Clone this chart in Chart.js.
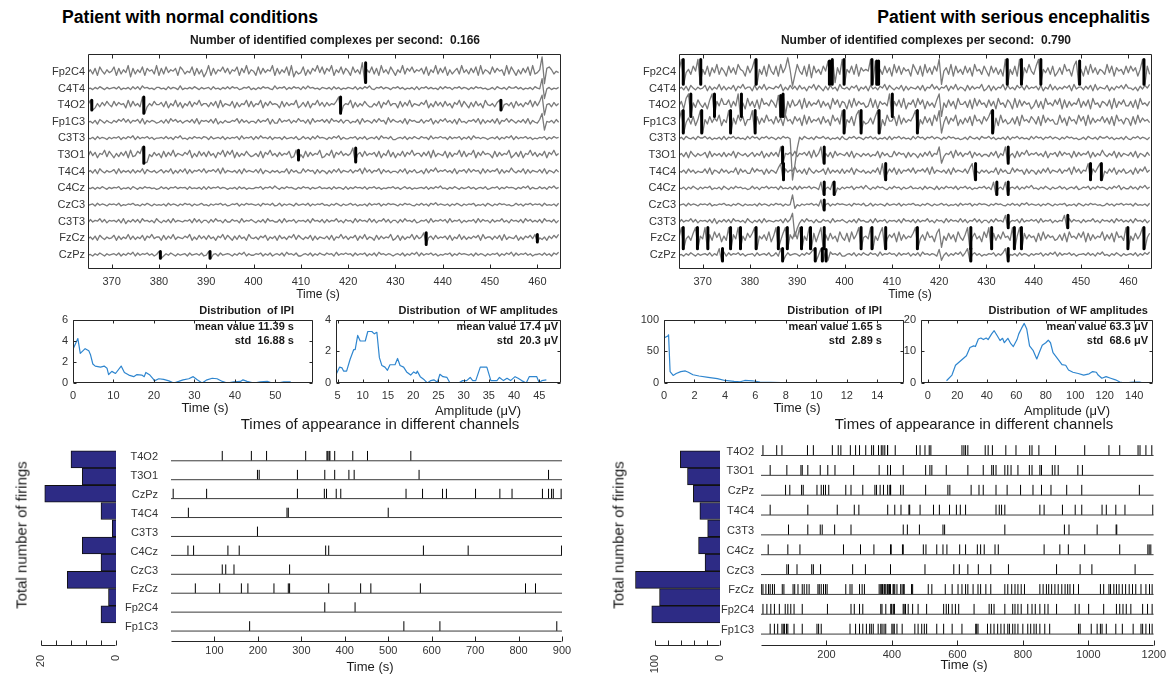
<!DOCTYPE html>
<html lang="en">
<head>
<meta charset="UTF-8">
<title>Complex detection - normal vs encephalitis</title>
<script src="https://cdn.jsdelivr.net/npm/chart.js"></script>
<style>
  body { margin: 0; background: #fff; }
  #page { position: relative; width: 1169px; height: 677px; overflow: hidden; font-family: 'Liberation Sans', Arial, sans-serif; }
  canvas { position: absolute; }
  .t { position: absolute; white-space: pre; line-height: 1; color: #1a1a1a; z-index: 2; }
  .c { transform: translate(-50%, -50%); }
  .r { transform: translate(-100%, -50%); }
  .l { transform: translateY(-50%); }
  .b { font-weight: bold; }
  .rot { transform: translate(-50%, -50%) rotate(-90deg); }
</style>
</head>
<body>
<div id="page">
  <div class="t b l" style="left:62px;top:18px;font-size:17.6px;color:#000">Patient with normal conditions</div>
  <div class="t b r" style="left:1150px;top:18px;font-size:17.6px;color:#000">Patient with serious encephalitis</div>
  <div class="t b c" style="left:335px;top:40px;font-size:12px">Number of identified complexes per second:  0.166</div>
  <div class="t b c" style="left:926px;top:40px;font-size:12px">Number of identified complexes per second:  0.790</div>
  <div class="t c" style="left:318px;top:294px;font-size:12px">Time (s)</div>
  <div class="t c" style="left:910px;top:294px;font-size:12px">Time (s)</div>

  <div class="t b r" style="left:294px;top:310px;font-size:11px">Distribution  of IPI</div>
  <div class="t b r" style="left:294px;top:326px;font-size:11px">mean value 11.39 s</div>
  <div class="t b r" style="left:294px;top:340px;font-size:11px">std  16.88 s</div>
  <div class="t b r" style="left:558px;top:310px;font-size:11px">Distribution  of WF amplitudes</div>
  <div class="t b r" style="left:558px;top:326px;font-size:11px">mean value 17.4 μV</div>
  <div class="t b r" style="left:558px;top:340px;font-size:11px">std  20.3 μV</div>
  <div class="t b r" style="left:882px;top:310px;font-size:11px">Distribution  of IPI</div>
  <div class="t b r" style="left:882px;top:326px;font-size:11px">mean value 1.65 s</div>
  <div class="t b r" style="left:882px;top:340px;font-size:11px">std  2.89 s</div>
  <div class="t b r" style="left:1148px;top:310px;font-size:11px">Distribution  of WF amplitudes</div>
  <div class="t b r" style="left:1148px;top:326px;font-size:11px">mean value 63.3 μV</div>
  <div class="t b r" style="left:1148px;top:340px;font-size:11px">std  68.6 μV</div>

  <div class="t c" style="left:205px;top:407px;font-size:13px">Time (s)</div>
  <div class="t c" style="left:478px;top:410px;font-size:13px">Amplitude (μV)</div>
  <div class="t c" style="left:797px;top:407px;font-size:13px">Time (s)</div>
  <div class="t c" style="left:1067px;top:410px;font-size:13px">Amplitude (μV)</div>

  <div class="t c" style="left:380px;top:423px;font-size:15px">Times of appearance in different channels</div>
  <div class="t c" style="left:974px;top:423px;font-size:15px">Times of appearance in different channels</div>
  <div class="t rot" style="left:21px;top:535px;font-size:15px">Total number of firings</div>
  <div class="t rot" style="left:618px;top:535px;font-size:15px">Total number of firings</div>
  <div class="t c" style="left:370px;top:666px;font-size:13px">Time (s)</div>
  <div class="t c" style="left:964px;top:664px;font-size:13px">Time (s)</div>
</div>

<script>
// ---------- EEG traces: 100 s window, one sample every 0.5 s ----------
const channels = ['Fp2C4', 'C4T4', 'T4O2', 'Fp1C3', 'C3T3', 'T3O1', 'T4C4', 'C4Cz', 'CzC3', 'C3T3', 'FzCz', 'CzPz'];
const eegT0 = 365;
const eegDt = 0.5;
const eegTicks = [370, 380, 390, 400, 410, 420, 430, 440, 450, 460];

// amplitude of one symbol step, in channel spacings
const gainNormal = [0.085, 0.045, 0.065, 0.055, 0.045, 0.065, 0.05, 0.04, 0.04, 0.05, 0.05, 0.045];
const gainEnceph = [0.1, 0.055, 0.09, 0.09, 0.05, 0.065, 0.065, 0.05, 0.04, 0.05, 0.085, 0.05];

// symbols: A B C (low) 0..9 X Y Z (high)
const traceNormal = [
  '4637285364 5827364917 3648275639 2738465728 6354827361 4927365847 3658274936 5283746592 7364829153 4826375948 3759264837 528463YA64 8372946385 2649375846 5738264937 4826357394 6374829365 3847562938 5263748293 46ZA786354',
  '4536475364 5647354637 4738564536 6453746538 3546475364 5637453647 4756346573 5364756438 4657364756 3748564536 5463746354 6547364758 4365746536 5746354637 3657464537 4756365746 5364756453 4637546375 5746354637 54ZA463546',
  '5902637485 3847562938 463ZA36485 5738264937 2648375946 6374829365 4827365938 3659274856 5283746592 4738265947 374658ZA46 5927364853 3648275946 6283749365 4759263847 3846275938 5273846295 4637905647 2846375938 48ZA563746',
  '4536275364 3647584736 5738264653 4637385746 3564738265 6473825364 4658374635 5374658273 3846573648 5637284657 4738564736 6354728465 3748562947 5463827564 4736582637 5846372845 3657482736 4738265847 5364738264 37ZA546374',
  '5463746536 4657364758 3746574635 5647463758 4536475647 6374564736 4657384657 3748564736 5637456473 4746374856 5364758364 4657364735 6473856473 3564736475 4756384657 5637465736 4738564653 5647364758 3746574635 4657364756',
  '3847265938 5263748293 486ZAB5374 6283749365 4759263847 3846275938 5927364853 4638275946 3746582390 5283746592 3649275846 46YB573846 5738264937 2648375946 6374829365 4827365938 3659274856 5283746592 4738265947 3648275946',
  '4637285364 5728364637 3648275463 5736482637 4827365748 3657482936 5463728465 4738265364 6354827463 3847562736 5263748365 4736582947 3658274635 5374826473 4628375946 5746382657 3847562837 4658273649 5364827365 4738265374',
  '5463647536 4657354637 5364756453 4746365746 5637454637 3746574653 5463746354 4657365748 5364756436 4756364574 5463746537 3647564736 5746354657 4635746354 5647364758 4536475364 5746356473 4657364756 5364758364 4746375846',
  '4563746536 5647354657 4536475364 5463746536 4756364574 5364657463 4657364756 5463756473 4736465374 5647364657 4536475364 5746354637 4657364756 5364756436 4746375846 5463647536 4657354637 5364756453 4746365746 5637454637',
  '3746584736 5647382647 4738564638 5364738465 4657384736 6374856374 4756384657 5364738564 4738465736 5647385647 3746584637 5638475648 4736584736 6374856473 4657384657 5738465736 4657384756 3746584637 5647385746 4738564736',
  '4637285364 5827364937 3648275946 6283749365 4759263847 3846275938 5273846295 4637582647 2846375938 5364827365 4738265947 3658274936 5283746592 4827365938 46YA573846 5738264937 3647582946 6374829365 4826375849 0536274859',
  '4536475364 5647364758 3746574635 9036475364 5637456473 4905637456 5364758364 4657364735 6473856473 3564736475 4756384657 5637465736 4738564653 5647364758 3746574635 4657364756 5463746536 4657364758 3746574635 5647463758'
];
const traceEnceph = [
  '5ZA46385ZA 6382749375 2847396528 47ZA638295 3829475638 4738291846 385YAZB73Z A648392756 5ZAYA63847 2948375629 6382947385 ZA57392846 3847295638 52847362ZA 6382ZA7495 38ZA647382 47395628YA 6283947365 3948275638 485726ZA83',
  '4637285364 5827364937 3648275946 6283749365 4759263847 3846275938 5273846295 4637582647 2846375938 5364827365 4738265947 3658274936 5283746592 4827365938 4638573846 5738264937 3647582946 6374829365 4826375849 5536274859',
  '4729ZA6385 3628ZA7495 58374ZA629 4738295648 63YAZB7384 5829374658 3746295837 6283947563 493827564Z A748392658 3958274638 ZA63847295 5738294856 3847295638 6293847562 4837295648 5928374659 3748295637 6482937584 4738295647',
  '5ZA473826Z A638475926 4ZA7395826 6ZA8374956 3847295638 5729384657 384629573Z A64829ZA53 4738ZA6295 5829374658 ZA63847295 ZA48375926 3748295638 58ZA729463 4738295648 6382947563 3947285639 5829374658 4738295637 6283947564',
  '4637546375 5746354637 3657464537 4756365746 5364756453 4637546375 5746354637 4365746536 5746354637 3657464537 4756365746 5364756453 4637546375 5746354637 3657464537 4756365746 5364756453 4637546375 5746354637 4365746536',
  '4637285364 5728364637 3648275463 5736482637 473ZA65748 3657482936 ZA63728465 4738265364 6354827463 3847562736 5263748365 ZA36582947 3658274635 53748264ZA 4628375946 5746382657 3847562837 4658273649 5364827365 4738265374',
  '5463746354 4738265374 6354827463 3847562736 538ZA74659 4637285364 5728364637 3648275463 536482ZA37 4827365748 3657482936 5463728465 4738ZA5364 6354827463 3847562736 5263748365 4736582947 365ZA748ZA 5374826473 4628375946',
  '5463647536 4657354637 5364756453 4746365746 5637454637 3746574653 ZA463ZA536 4657365748 5364756436 4756364574 5463746537 3647564736 5746354657 463ZA463ZA 5647364758 4536475364 5746356473 4657364756 5364758364 4746375846',
  '4563746536 5647354657 4536475364 5463746536 4756364574 5364657463 ZA57364756 5463756473 4736465374 5647364657 4536475364 5746354637 4657364756 5364756436 4746375846 5463647536 4657354637 5364756453 4746365746 5637454637',
  '3746584736 5647382647 4738564638 5364738465 4657384736 6374856374 4756384657 5364738564 4738465736 5647385647 3746584637 5638475648 4736584736 63748564ZA 4657384657 5738465736 465ZA84756 3746584637 5647385746 4738564736',
  '5ZA4638ZA6 4ZA7395826 3ZA74ZA638 58ZA647392 6ZA38ZA749 4ZA63ZA827 ZA73846295 382947ZA56 4ZA638ZA47 5829374658 ZA47395628 YB63847295 37ZA584629 5ZA8374956 3ZA6ZA8475 6283947563 4738295648 5928374659 374829563Z A63847ZA58',
  '4536475364 5647364ZA8 3746574635 5637456473 473ZA37456 5364758ZA4 ZAYB856473 3564736475 4756384657 5637465736 4738564653 YB47364758 37ZA574635 46573647ZA 5463746536 4657364758 3746574635 5647463758 4536475364 5647364758'
];
// large transients: [channel, sample, offset in channel spacings]
const artifactNormal = [[0, 192, 0.9], [0, 193, -0.7], [1, 192, 0.6], [1, 193, -0.6], [2, 192, 0.6], [2, 193, -0.6], [3, 192, 0.5], [3, 193, -0.5]];
const artifactEnceph = [[0, 46, 0.85], [0, 47, 0.1], [0, 48, -0.85], [0, 49, -0.2], [0, 50, 0.45], [0, 51, 0.05],
  [4, 48, -2.5], [4, 49, -1.6], [4, 50, -0.6], [8, 48, 0.6], [8, 49, -0.2], [9, 48, 0.5], [9, 49, -0.9], [9, 50, -0.4]];

// ---------- firings per channel ----------
const firingChannels = ['T4O2', 'T3O1', 'CzPz', 'T4C4', 'C3T3', 'C4Cz', 'CzC3', 'FzCz', 'Fp2C4', 'Fp1C3'];
const firingCountNormal = [12, 9, 19, 4, 1, 9, 4, 13, 2, 4];
const firingCountEnceph = [61, 50, 41, 31, 19, 33, 23, 130, 93, 105];
// which firing row belongs to each EEG channel (null = none)
const eegToFiring = [8, null, 0, 9, null, 1, 3, 5, 6, 4, 7, 2];

const firingTimesNormal = [
  [118, 185, 220, 310, 359, 361, 364, 365.8, 376.8, 418.4, 452.3, 552],
  [199, 203, 291, 354, 376.8, 409.5, 421.6, 571, 869],
  [5, 82, 291, 353, 358, 380.3, 390.8, 541, 579, 625, 634, 701, 757, 785, 855, 869, 876, 880, 898],
  [40, 267, 270, 500],
  [199],
  [39, 52, 131, 157, 356, 363, 581, 684, 899],
  [118, 126, 145, 273],
  [56, 112, 162, 177, 237, 270, 273, 363, 436.5, 460, 574, 816, 839],
  [354, 423.7],
  [181, 536, 619, 888]
];
const firingTimesEnceph = [
  [6, 48, 64, 142, 160, 218, 236, 244, 273, 289, 301, 320, 338, 344, 359, 367.5, 372.5, 378.2, 386.5, 387, 410.1, 475, 486, 501, 514, 519, 614, 620, 625, 632, 685, 694, 707, 748, 779, 821, 828, 849, 900, 989, 1063, 1096, 1152, 1158, 1176, 1194],
  [28, 79, 122, 126, 143, 181, 204, 226, 283, 361, 386.9, 395.7, 434.6, 503, 516, 522, 566, 632, 679, 705, 710, 718, 745, 754, 764, 785, 820, 828, 852, 857, 890, 898, 908, 968, 982],
  [75, 88, 124, 129, 171, 184, 191, 197, 207, 259, 275, 311, 348, 353, 364, 374.2, 386.9, 393.8, 395.3, 396.1, 426.7, 434.6, 503, 571, 577, 642, 666, 679, 718, 752, 793, 831, 857, 886, 934, 980, 1156],
  [28, 143, 233, 285, 299, 387.1, 408.7, 427.7, 452, 454.3, 486, 527, 545, 576, 597, 609, 625, 718, 728, 735, 745, 852, 865, 921, 960, 980, 1042, 1055, 1084, 1112, 1197],
  [84, 143, 181, 187, 225, 275, 434.6, 447.2, 484, 556, 561, 745, 927, 941, 1027, 1085, 1087],
  [22, 82, 119, 252, 304, 345, 395.7, 397.8, 432.2, 434.6, 496, 504, 537, 556, 568, 607, 625, 661, 671, 682, 715, 725, 865, 913, 939, 989, 1096, 1182, 1186, 1191],
  [79, 84, 110, 155, 160, 182, 280, 319, 395.7, 501, 589, 606, 632, 664, 702, 756, 903, 975, 1011, 1143],
  [1, 6, 15, 23, 28, 35, 41, 65, 70, 98, 103, 113, 126, 132, 140, 147, 174, 178, 184, 191, 197, 202, 259, 272, 278, 301, 309, 316, 361,
   365.9, 368.9, 371.1, 375.9, 378, 381.3, 386, 387.9, 390.9, 392.8, 395.7, 403.5, 405.8, 408.7, 415.4, 426.7, 431.1, 435.9, 437.4, 459.9, 463.3,
   511, 522, 563, 584, 602, 614, 625, 632, 648, 663, 671, 687, 702, 745, 754, 766, 776, 785, 795, 805, 852, 862, 872, 879, 888, 898, 908, 919, 929, 937, 944, 955, 970,
   1037, 1047, 1063, 1068, 1078, 1086, 1094, 1104, 1114, 1125, 1135, 1145, 1161, 1176, 1187, 1195],
  [6, 18, 30, 41, 56, 74, 82, 91, 101, 126, 203, 275, 285, 301, 311, 365.9, 369.6, 381.3, 396.8, 397.4, 399.9, 405.8, 406.8, 407.2, 434.4, 437.4, 441.5, 449.7, 463.3,
   480, 506, 558, 566, 573, 584, 594, 604, 651, 697, 704, 712, 745, 769, 776, 785, 795, 815, 828, 838, 852, 867, 877, 903, 960, 972, 1001, 1047, 1086, 1096, 1106, 1116, 1130, 1166, 1181, 1195],
  [28, 41, 51, 64, 68, 72, 78, 82, 101, 126, 171, 176, 184, 272, 289, 301, 311, 322, 332, 337, 343, 358, 365.9, 369.8, 375.9, 381.1, 399.9, 403.5, 407.3, 415.4, 431.3,
   470, 480, 491, 499, 506, 537, 558, 584, 614, 656, 659, 663, 692, 702, 712, 723, 733, 743, 754, 759, 769, 776, 785, 800, 815, 824, 834, 841, 852, 867, 882,
   970, 975, 1009, 1027, 1037, 1042, 1055, 1084, 1104, 1137, 1161, 1166, 1176, 1187, 1195]
];
const rasterTicksNormal = [100, 200, 300, 400, 500, 600, 700, 800, 900];
const rasterTicksEnceph = [200, 400, 600, 800, 1000, 1200];
const barTicksNormal = [0, 4, 8, 12, 16, 20];
const barLabelsNormal = [20, 0];
const barTicksEnceph = [0, 20, 40, 60, 80, 100];
const barLabelsEnceph = [100, 0];

// ---------- distributions ----------
const ipiTimeNormal = [0, 1.2, 1.8, 3, 3.9, 4.3, 4.9, 5.5, 6.8, 7.7, 8.4, 8.8, 9.6, 10.5, 11.9, 12.7, 13.8, 15, 15.8, 17, 17.6, 18, 19, 19.8, 20.1, 21.2, 22.4, 23.7, 24.9, 26.1, 27.2, 28.6, 29.7, 30.7, 31.9, 33.1, 34.4, 35.6, 36.9, 38.1, 39.7, 41.4, 42, 43, 44.7, 46.3, 48, 49.2, 50.5, 52.1, 53.8];
const ipiCountNormal = [3.2, 4.2, 2.8, 3.25, 3.05, 2.7, 1.8, 1.6, 1.5, 1.6, 1.4, 0.8, 1.1, 0.9, 1.6, 1.0, 0.75, 0.6, 0.8, 0.75, 0.6, 1.0, 0.75, 0.4, 0.2, 0.4, 0.35, 0.2, 0, 0.15, 0.3, 0.4, 0.6, 0.3, 0, 0.3, 0.45, 0.4, 0.15, 0, 0.1, 0.15, 0.3, 0.15, 0, 0.1, 0.15, 0, 0, 0.1, 0.1];
const wfAmpNormal = [4.74, 5.4, 5.9, 6.2, 6.8, 7.5, 8.2, 8.5, 9, 9.5, 10.5, 11, 11.8, 12.3, 12.8, 13.3, 13.8, 14.4, 14.9, 15.4, 16.4, 16.9, 17.4, 18.1, 18.7, 19.5, 20.1, 20.6, 20.8, 21.4, 22.2, 22.8, 23.5, 24.1, 24.8, 25.3, 25.9, 26.7, 27.3, 29, 29.8, 30.6, 31.3, 31.8, 32.4, 33.3, 34.6, 35.4, 36.6, 37.1, 37.9, 38.6, 39.3, 40.2, 40.8, 41.5, 42.4, 43, 44.5, 45, 45.5, 46.4];
const wfCountNormal = [0.55, 1.0, 0.95, 0.75, 0.75, 1.5, 2.1, 2.1, 3.0, 2.65, 2.65, 3.25, 3.25, 3.1, 3.2, 1.6, 1.1, 1.0, 0.8, 1.15, 1.15, 1.55, 1.1, 1.0, 0.7, 0.5, 0.7, 0.6, 0.75, 0.4, 0.2, 0, 0.15, 0.2, 0.05, 0.55, 0.4, 0.35, 0, 0, 0.15, 0.15, 0.35, 0.15, 0.15, 1.0, 1.0, 0.15, 0.15, 0.35, 0.15, 0.3, 0.15, 0.4, 0.3, 0.15, 0, 0.4, 0.4, 0, 0.15, 0.2];
const ipiTimeEnceph = [0, 0.25, 0.3, 0.4, 0.6, 0.8, 1.1, 1.4, 1.6, 1.9, 2.3, 2.9, 3.5, 4.0, 4.6, 5.0, 5.3, 5.8, 6.3, 7.0, 7.7, 8.7, 10.1, 11.3, 12.5, 14, 15.3];
const ipiCountEnceph = [71, 74, 76, 18, 12, 15, 18, 19, 17, 13, 11, 9, 7, 4, 2.5, 2, 4, 3.5, 1.5, 1, 0.5, 0.2, 0.2, 0.1, 0.1, 0.1, 0.1];
const wfAmpEnceph = [12.7, 16.4, 18.8, 22.5, 26.2, 28.6, 31.1, 32.3, 34.3, 36, 37.7, 39.6, 40.9, 43.3, 45, 47, 49, 50.7, 51.9, 54.3, 56.3, 58, 60.5, 61.7, 63.6, 65.4, 67.1, 69, 71.5, 73.9, 75.6, 77.6, 80, 81.7, 83.2, 84.9, 88.1, 91, 93.5, 95.4, 98.4, 102, 105.7, 109.4, 111.8, 114.3, 115.5, 118, 120.9, 124, 127.3, 130.2, 133.9, 137.5, 140, 143.7, 146.1];
const wfCountEnceph = [0.7, 2.5, 5.6, 7.1, 8.6, 11.2, 11.7, 11.5, 13.9, 14.2, 13.7, 14.2, 13.7, 15.5, 16.5, 15, 13.4, 14.1, 12.7, 14.1, 12.4, 11.5, 13.7, 15.5, 17.3, 18.8, 17, 11.7, 10.2, 7.6, 9.6, 11.9, 12.7, 13.5, 12.7, 9.6, 7.6, 5.8, 5.6, 4.1, 3.4, 3, 2.5, 2.9, 3.6, 3.4, 2.5, 1.5, 2, 1.5, 1, 0.3, 0, 0.2, 0.3, 0.3, 0];
const ipiTicksNormal = [0, 10, 20, 30, 40, 50];
const ipiYTicksNormal = [0, 2, 4, 6];
const wfTicksNormal = [5, 10, 15, 20, 25, 30, 35, 40, 45];
const wfYTicksNormal = [0, 2, 4];
const ipiTicksEnceph = [0, 2, 4, 6, 8, 10, 12, 14];
const ipiYTicksEnceph = [0, 50, 100];
const wfTicksEnceph = [0, 20, 40, 60, 80, 100, 120, 140];
const wfYTicksEnceph = [0, 10, 20];

// ---------- drawing ----------
const FONT = "'Liberation Sans', Arial, sans-serif";
Chart.defaults.font.family = FONT;
Chart.defaults.color = '#333';
const page = document.getElementById('page');
const SYM = 'ABC0123456789XYZ';

// plot frame with inward ticks, MATLAB style
const framePlugin = {
  id: 'frame',
  afterDatasetsDraw(chart, args, o) {
    const a = chart.chartArea, ctx = chart.ctx, len = o.len || 4;
    const L = Math.round(a.left) + 0.5, R = Math.round(a.right) - 0.5;
    const T = Math.round(a.top) + 0.5, B = Math.round(a.bottom) - 0.5;
    ctx.save();
    ctx.strokeStyle = '#262626';
    ctx.lineWidth = 1;
    ctx.beginPath();
    if (o.box) ctx.rect(L, T, R - L, B - T);
    else { ctx.moveTo(L, B); ctx.lineTo(R, B); }
    if (o.xTicks) chart.scales.x.ticks.forEach(t => {
      const p = Math.round(chart.scales.x.getPixelForValue(t.value)) + 0.5;
      ctx.moveTo(p, B); ctx.lineTo(p, B - len);
      if (o.box) { ctx.moveTo(p, T); ctx.lineTo(p, T + len); }
    });
    if (o.yTicks) chart.scales.y.ticks.forEach(t => {
      const p = Math.round(chart.scales.y.getPixelForValue(t.value)) + 0.5;
      ctx.moveTo(L, p); ctx.lineTo(L + len, p);
      ctx.moveTo(R, p); ctx.lineTo(R - len, p);
    });
    ctx.stroke();
    ctx.restore();
  }
};

function useTicks(list) {
  return s => { s.ticks = list.map(v => ({ value: v })); };
}

function makeChart(plot, pad, type, datasets, scales, frame, extra) {
  const cv = document.createElement('canvas');
  cv.width = plot.r - plot.l + pad.l + pad.r;
  cv.height = plot.b - plot.t + pad.t + pad.b;
  cv.style.left = (plot.l - pad.l) + 'px';
  cv.style.top = (plot.t - pad.t) + 'px';
  page.insertBefore(cv, page.firstChild);
  const yShown = scales.y.display !== false;
  scales.x.afterFit = s => { s.height = pad.b; };
  if (yShown) scales.y.afterFit = s => { s.width = pad.l; };
  for (const k in scales) {
    scales[k].grid = { display: false, drawTicks: false };
    scales[k].border = { display: false };
    if (scales[k].ticks) scales[k].ticks.autoSkip = false;
  }
  return new Chart(cv, {
    type: type,
    data: { datasets: datasets },
    options: Object.assign({
      responsive: false,
      animation: false,
      devicePixelRatio: 1,
      layout: { padding: { top: pad.t, right: pad.r, bottom: 0, left: yShown ? 0 : pad.l } },
      plugins: { legend: { display: false }, tooltip: { enabled: false }, frame: frame },
      scales: scales
    }, extra || {}),
    plugins: [framePlugin]
  });
}

function tickFont(size) { return { size: size, family: FONT }; }

function eegPanel(plot, traces, gains, artifacts, firingTimes) {
  const n = channels.length;
  const pts = traces.map((s, i) => s.replace(/\s+/g, '').split('').map((ch, k) => ({
    x: eegT0 + k * eegDt,
    y: n - i + gains[i] * (SYM.indexOf(ch) - 7.5)
  })));
  artifacts.forEach(([i, k, v]) => { pts[i][k].y = n - i + v; });
  const datasets = pts.map(p => ({
    data: p, showLine: true, pointRadius: 0, borderWidth: 1.3, borderColor: '#7a7a7a', borderJoinStyle: 'round', order: 2
  }));
  // detected complexes: black bar at the firing time spanning the trace swing there
  pts.forEach((p, i) => {
    const f = eegToFiring[i];
    if (f === null) return;
    const mark = [];
    firingTimes[f].filter(t => t >= eegT0 && t < eegT0 + 100).forEach(t => {
      const k = Math.max(1, Math.round((t - eegT0) / eegDt));
      mark.push({ x: t, y: p[k - 1].y }, { x: t, y: p[k].y }, { x: t, y: null });
    });
    datasets.push({ data: mark, showLine: true, pointRadius: 0, borderWidth: 3, borderColor: '#000', borderCapStyle: 'round', order: 1 });
  });
  makeChart(plot, { l: 50, t: 5, r: 12, b: 20 }, 'scatter', datasets, {
    x: { type: 'linear', min: eegT0, max: eegT0 + 100, afterBuildTicks: useTicks(eegTicks),
         ticks: { font: tickFont(11), padding: 6, maxRotation: 0 } },
    y: { type: 'linear', min: 0.15, max: 13.1, afterBuildTicks: useTicks(channels.map((c, i) => i + 1)),
         ticks: { font: tickFont(11), padding: 3, callback: v => channels[n - v] } }
  }, { box: true, xTicks: true, len: 4 });
}

function distPanel(plot, padL, xs, ys, xMin, xMax, yMax, xTicks, yTicks) {
  const data = xs.map((x, i) => ({ x: x, y: ys[i] }));
  makeChart(plot, { l: padL, t: 10, r: 10, b: 18 }, 'scatter', [{
    data: data, showLine: true, pointRadius: 0, borderWidth: 1.2, borderColor: '#2f86cf', borderJoinStyle: 'round'
  }], {
    x: { type: 'linear', min: xMin, max: xMax, afterBuildTicks: useTicks(xTicks),
         ticks: { font: tickFont(11), padding: 6, maxRotation: 0 } },
    y: { type: 'linear', min: 0, max: yMax, afterBuildTicks: useTicks(yTicks),
         ticks: { font: tickFont(11), padding: 5 } }
  }, { box: true, xTicks: true, yTicks: true, len: 3 });
}

function barPanel(plot, counts, max, tickList, labelList) {
  const data = counts.map((c, i) => ({ x: c, y: firingChannels.length - i }));
  makeChart(plot, { l: 30, t: 5, r: 5, b: 30 }, 'bar', [{
    data: data, backgroundColor: '#2d2b85', borderColor: '#111', borderWidth: 1, barThickness: 17, clip: false
  }], {
    x: { type: 'linear', reverse: true, min: 0, max: max, afterBuildTicks: useTicks(tickList),
         ticks: { font: tickFont(11), padding: 9, minRotation: 90, maxRotation: 90,
                  callback: v => labelList.includes(v) ? String(v) : '' } },
    y: { type: 'linear', min: 0.2, max: 10.55, display: false }
  }, { box: false, xTicks: true, len: 5 }, { indexAxis: 'y' });
}

function rasterPanel(plot, padL, labelPad, times, xMax, tickList) {
  const n = firingChannels.length;
  const base = [], marks = [];
  times.forEach((row, i) => {
    const r = n - i;
    base.push({ x: 0, y: r - 0.2 }, { x: xMax, y: r - 0.2 }, { x: xMax, y: null });
    row.forEach(t => { marks.push({ x: t, y: r - 0.2 }, { x: t, y: r + 0.32 }, { x: t, y: null }); });
  });
  makeChart(plot, { l: padL, t: 5, r: 14, b: 16 }, 'scatter', [
    { data: base, showLine: true, pointRadius: 0, borderWidth: 1, borderColor: '#3a3a3a' },
    { data: marks, showLine: true, pointRadius: 0, borderWidth: 1, borderColor: '#000' }
  ], {
    x: { type: 'linear', min: 0, max: xMax, afterBuildTicks: useTicks(tickList),
         ticks: { font: tickFont(11), padding: 2, maxRotation: 0, callback: v => String(v) } },
    y: { type: 'linear', min: 0.2, max: 10.55, afterBuildTicks: useTicks(firingChannels.map((c, i) => i + 1)),
         ticks: { font: tickFont(11), padding: labelPad, callback: v => firingChannels[n - v] } }
  }, { box: false, xTicks: true, len: 5 });
}

// left column: normal conditions
eegPanel({ l: 88, t: 49, r: 561, b: 269 }, traceNormal, gainNormal, artifactNormal, firingTimesNormal);
distPanel({ l: 73, t: 318, r: 313, b: 383 }, 25, ipiTimeNormal, ipiCountNormal, 0, 59.3, 6, ipiTicksNormal, ipiYTicksNormal);
distPanel({ l: 336, t: 318, r: 561, b: 383 }, 20, wfAmpNormal, wfCountNormal, 4.7, 49.3, 4, wfTicksNormal, wfYTicksNormal);
barPanel({ l: 41, t: 432, r: 116, b: 646 }, firingCountNormal, 20, barTicksNormal, barLabelsNormal);
rasterPanel({ l: 171, t: 432, r: 562, b: 646 }, 50, 13, firingTimesNormal, 900, rasterTicksNormal);

// right column: serious encephalitis
eegPanel({ l: 679, t: 49, r: 1152, b: 269 }, traceEnceph, gainEnceph, artifactEnceph, firingTimesEnceph);
distPanel({ l: 664, t: 318, r: 904, b: 383 }, 30, ipiTimeEnceph, ipiCountEnceph, 0, 15.75, 100, ipiTicksEnceph, ipiYTicksEnceph);
distPanel({ l: 921, t: 318, r: 1153, b: 383 }, 20, wfAmpEnceph, wfCountEnceph, -4.6, 152.7, 20, wfTicksEnceph, wfYTicksEnceph);
barPanel({ l: 655, t: 432, r: 720, b: 646 }, firingCountEnceph, 100, barTicksEnceph, barLabelsEnceph);
rasterPanel({ l: 761, t: 432, r: 1154, b: 646 }, 40, 7, firingTimesEnceph, 1200, rasterTicksEnceph);
</script>
</body>
</html>
